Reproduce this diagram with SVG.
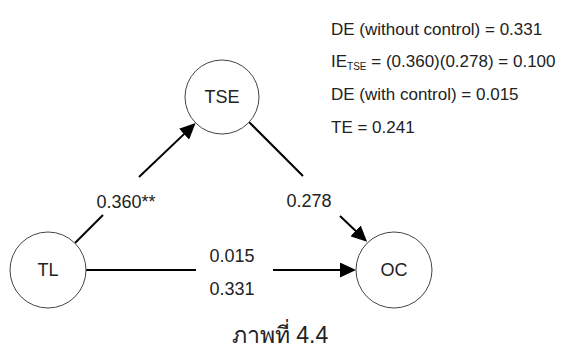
<svg xmlns="http://www.w3.org/2000/svg" width="563" height="349" viewBox="0 0 563 349">
  <style>
    text { font-family: "Liberation Sans", Arial, sans-serif; fill: #222; }
    .node circle { fill: #fff; stroke: #444; stroke-width: 1; }
    .node text { font-size: 18px; text-anchor: middle; dominant-baseline: central; }
    .edge { stroke: #000; stroke-width: 2; fill: none; }
    .lbl { font-size: 18px; text-anchor: middle; }
    .note { font-size: 17px; }
    .cap { font-size: 23px; text-anchor: middle; font-family: "Liberation Sans", "Noto Sans", sans-serif; }
  </style>
  <defs>
    <marker id="arrow" markerUnits="userSpaceOnUse" markerWidth="16" markerHeight="15" refX="8" refY="7.5" orient="auto">
      <path d="M0,0 L16,7.5 L0,15 Z" fill="#000"/>
    </marker>
  </defs>

  <rect width="563" height="349" fill="#fff"/>

  <!-- path connectors, each broken around its coefficient label -->
  <g id="connectors">
    <line class="edge" x1="75" y1="243" x2="103" y2="215"/>
    <line class="edge" x1="139" y1="177" x2="189.8" y2="128.6" marker-end="url(#arrow)"/>
    <line class="edge" x1="249" y1="122" x2="303" y2="176"/>
    <line class="edge" x1="340" y1="216" x2="361.3" y2="236.3" marker-end="url(#arrow)"/>
    <line class="edge" x1="86" y1="270" x2="196" y2="270"/>
    <line class="edge" x1="273" y1="270" x2="348" y2="270" marker-end="url(#arrow)"/>
  </g>

  <g id="edge-labels">
    <text class="lbl" x="126" y="208">0.360**</text>
    <text class="lbl" x="309" y="207">0.278</text>
    <text class="lbl" x="232" y="262">0.015</text>
    <text class="lbl" x="232" y="295">0.331</text>
  </g>

  <g id="TSE" class="node">
    <circle cx="222" cy="97" r="37"/>
    <text x="222" y="97">TSE</text>
  </g>
  <g id="TL" class="node">
    <circle cx="48" cy="270" r="38"/>
    <text x="48" y="270">TL</text>
  </g>
  <g id="OC" class="node">
    <circle cx="394" cy="270" r="38"/>
    <text x="394" y="270">OC</text>
  </g>

  <!-- effect decomposition -->
  <g id="effects" class="note">
    <text x="331" y="35">DE (without control) = 0.331</text>
    <text x="331" y="67">IE<tspan font-size="10" dy="3">TSE</tspan><tspan dy="-3"> = (0.360)(0.278) = 0.100</tspan></text>
    <text x="331" y="100">DE (with control) = 0.015</text>
    <text x="331" y="133">TE = 0.241</text>
  </g>

  <text class="cap" x="280" y="343">ภาพที่ 4.4</text>
</svg>
